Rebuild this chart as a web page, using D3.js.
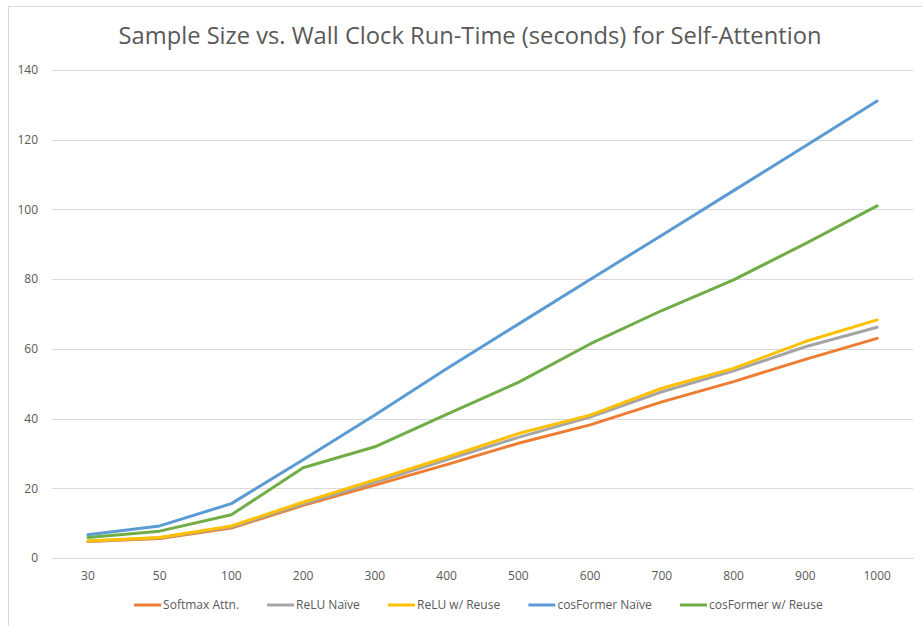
<!DOCTYPE html>
<html>
<head>
<meta charset="utf-8">
<script src="https://cdn.jsdelivr.net/npm/d3@7"></script>
<style>
  html, body { margin: 0; padding: 0; background: #fff; }
  svg { display: block; }
  text { font-family: "Open Sans", "Noto Sans", sans-serif; }
</style>
</head>
<body>
<svg id="chart" width="922" height="626"></svg>
<script>
const title = "Sample Size vs. Wall Clock Run-Time (seconds) for Self-Attention";
const categories = ["30", "50", "100", "200", "300", "400", "500", "600", "700", "800", "900", "1000"];
const yTicks = [0, 20, 40, 60, 80, 100, 120, 140];

const seriesNames = ["Softmax Attn.", "ReLU Naïve", "ReLU w/ Reuse", "cosFormer Naïve", "cosFormer w/ Reuse"];
const seriesColors = ["#ED7D31", "#A5A5A5", "#FFC000", "#5B9BD5", "#70AD47"];

const softmaxAttn    = [4.7, 5.6, 8.6, 15.1, 20.9, 26.8, 32.9, 38.2, 44.8, 50.6, 57.0, 63.0];
const reluNaive      = [4.8, 5.8, 8.9, 15.5, 21.7, 28.2, 34.6, 40.4, 47.7, 53.7, 60.6, 66.2];
const reluReuse      = [4.9, 5.9, 9.2, 16.0, 22.4, 28.9, 35.7, 41.0, 48.7, 54.4, 62.1, 68.3];
const cosformerNaive = [6.7, 9.2, 15.6, 28.2, 41.0, 54.3, 67.1, 79.9, 92.6, 105.4, 118.2, 131.1];
const cosformerReuse = [5.9, 7.7, 12.4, 25.9, 31.9, 41.2, 50.4, 61.4, 71.0, 79.8, 90.2, 101.0];

const seriesValues = [softmaxAttn, reluNaive, reluReuse, cosformerNaive, cosformerReuse];

const svg = d3.select("#chart");

// chart border (only left and top visible in the frame)
svg.append("rect")
  .attr("x", 8.5).attr("y", 6.5)
  .attr("width", 940).attr("height", 640)
  .attr("fill", "#fff").attr("stroke", "#d9d9d9").attr("stroke-width", 1);

const plot = { left: 52, right: 913, top: 70, bottom: 558 };

const x = d3.scaleBand().domain(categories).range([plot.left, plot.right]).paddingInner(0).paddingOuter(0);
const y = d3.scaleLinear().domain([0, 140]).range([plot.bottom, plot.top]);

// gridlines
const yAxis = d3.axisLeft(y).tickValues(yTicks).tickSize(-(plot.right - plot.left)).tickPadding(14);
const gy = svg.append("g").attr("transform", `translate(${plot.left},0)`).call(yAxis);
gy.select(".domain").remove();
gy.selectAll(".tick line").attr("stroke", "#d9d9d9").attr("stroke-width", 1).attr("shape-rendering", "crispEdges");
gy.selectAll(".tick text").attr("fill", "#595959").style("font-size", "12px").attr("x", -14);

// x axis
const xAxis = d3.axisBottom(x).tickSize(0).tickPadding(13);
const gx = svg.append("g").attr("transform", `translate(0,${plot.bottom})`).call(xAxis);
gx.select(".domain").attr("stroke", "#d9d9d9").attr("shape-rendering", "crispEdges");
gx.selectAll(".tick text").attr("fill", "#595959").style("font-size", "12px");

// lines
const line = d3.line()
  .x((d, i) => x(categories[i]) + x.bandwidth() / 2)
  .y(d => y(d));

seriesValues.forEach((vals, s) => {
  svg.append("path")
    .datum(vals)
    .attr("d", line)
    .attr("fill", "none")
    .attr("stroke", seriesColors[s])
    .attr("stroke-width", 3)
    .attr("stroke-linejoin", "round")
    .attr("stroke-linecap", "round");
});

// title
const t = svg.append("text")
  .attr("x", 470).attr("y", 44)
  .attr("text-anchor", "middle")
  .attr("fill", "#595959")
  .style("font-size", "22px")
  .text(title);
// fit to reference width
const targetW = 703;
const w0 = t.node().getComputedTextLength();
t.style("font-size", (22 * targetW / w0).toFixed(2) + "px");

// legend
const legendItems = seriesNames.map((n, i) => ({ name: n, color: seriesColors[i] }));
const lg = svg.append("g").attr("transform", "translate(0,605)");
const items = lg.selectAll("g").data(legendItems).join("g");
items.append("line")
  .attr("x1", 0).attr("x2", 27).attr("y1", 0).attr("y2", 0)
  .attr("stroke", d => d.color).attr("stroke-width", 3);
items.append("text")
  .attr("x", 29).attr("y", 0).attr("dy", "0.35em")
  .attr("fill", "#595959").style("font-size", "12px")
  .text(d => d.name);
// layout legend horizontally, centered
let widths = [];
items.each(function () { widths.push(this.getBBox().width); });
const gap = 28;
const total = d3.sum(widths) + gap * (widths.length - 1);
let cx = (131 + 826) / 2 - total / 2;
items.attr("transform", (d, i) => {
  const tx = cx; cx += widths[i] + gap; return `translate(${tx},0)`;
});
</script>
</body>
</html>
